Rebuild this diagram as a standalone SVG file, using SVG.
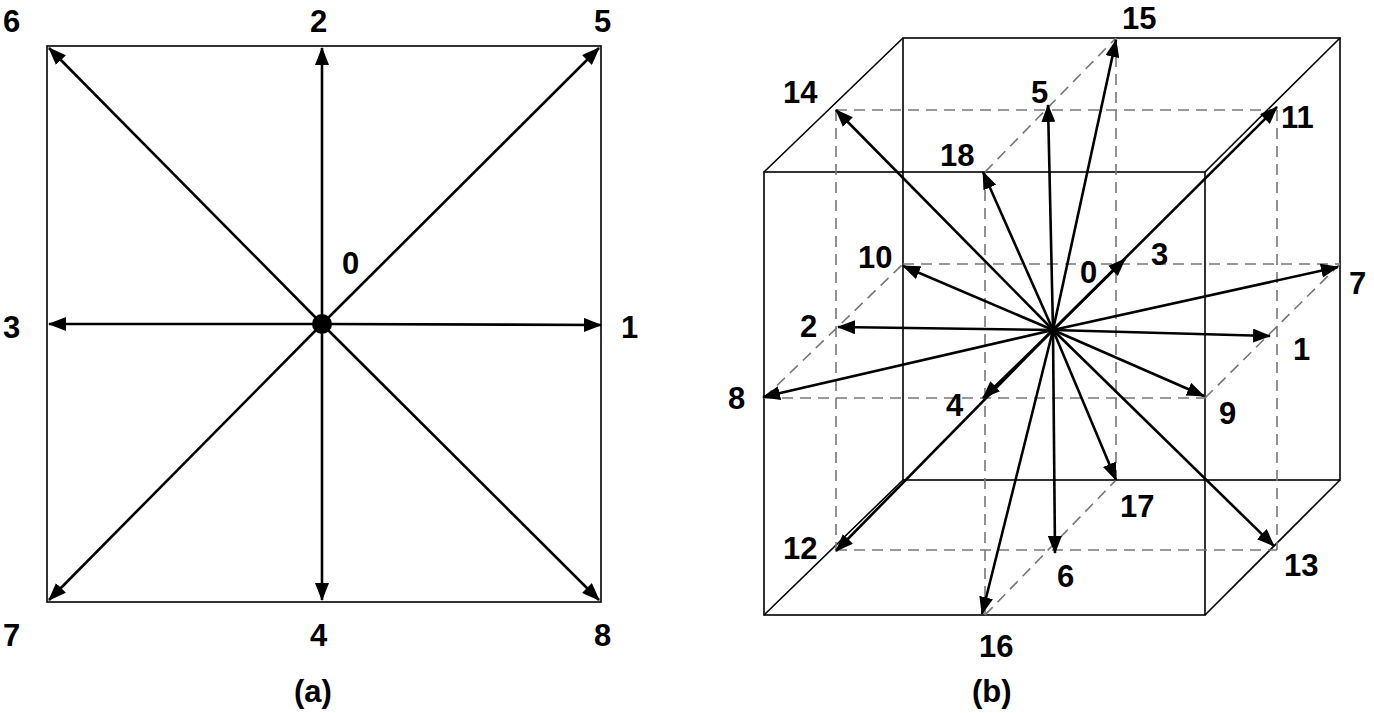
<svg xmlns="http://www.w3.org/2000/svg" width="1374" height="713" viewBox="0 0 1374 713">
<style>
.f{fill:none;stroke:#000;stroke-width:1.6}
.d{fill:none;stroke:#777;stroke-width:1.6;stroke-dasharray:11,7}
.a{stroke:#000;stroke-width:2.6;marker-end:url(#ah)}
text{font-family:"Liberation Sans",Arial,sans-serif;font-weight:bold;font-size:31px;fill:#000}
</style>
<defs><marker id="ah" viewBox="0 0 18 14" refX="17" refY="7" markerWidth="18" markerHeight="14" markerUnits="userSpaceOnUse" orient="auto"><path d="M0,0 L18,7 L0,14 z" fill="#000"/></marker></defs>
<g id="panel-a">
<rect class="f" x="47" y="46" width="554" height="556"/>
<g id="connectors-a">
<line class="a" x1="322" y1="324" x2="601" y2="325"/>
<line class="a" x1="322" y1="324" x2="322" y2="48"/>
<line class="a" x1="322" y1="324" x2="49" y2="324"/>
<line class="a" x1="322" y1="324" x2="322" y2="600"/>
<line class="a" x1="322" y1="324" x2="599" y2="48"/>
<line class="a" x1="322" y1="324" x2="49" y2="48"/>
<line class="a" x1="322" y1="324" x2="49" y2="600"/>
<line class="a" x1="322" y1="324" x2="599" y2="600"/>
</g>
<circle id="n0" cx="322" cy="324" r="10"/>
<text x="342" y="274">0</text><text x="621" y="338">1</text><text x="310" y="32">2</text>
<text x="3" y="338">3</text><text x="310" y="646">4</text><text x="594" y="32">5</text>
<text x="3" y="32">6</text><text x="3" y="646">7</text><text x="594" y="646">8</text>
<text x="294" y="702">(a)</text>
</g>
<g id="panel-b">
<g id="cube">
<rect class="f" x="764" y="172" width="441" height="443"/>
<rect class="f" x="903" y="38" width="437" height="442"/>
<path class="f" d="M764,172L903,38M1205,172L1340,38M764,615L903,480M1205,615L1340,480"/>
<path class="d" d="M836,110H1277M903,264H1340M764,398H1205M836,550H1277M836,110V550M1277,110V550M985,172V615M1116,38V480M764,398L903,264M1205,398L1340,264M985,172L1116,38M985,615L1116,480"/>
</g>
<g id="connectors-b">
<line class="a" x1="1053" y1="330" x2="1270" y2="336"/>
<line class="a" x1="1053" y1="330" x2="838" y2="327"/>
<line class="a" x1="1053" y1="330" x2="1125" y2="259"/>
<line class="a" x1="1053" y1="330" x2="983" y2="398"/>
<line class="a" x1="1053" y1="330" x2="1048" y2="105"/>
<line class="a" x1="1053" y1="330" x2="1055" y2="553"/>
<line class="a" x1="1053" y1="330" x2="1338" y2="267"/>
<line class="a" x1="1053" y1="330" x2="763" y2="397"/>
<line class="a" x1="1053" y1="330" x2="1204" y2="396"/>
<line class="a" x1="1053" y1="330" x2="903" y2="266"/>
<line class="a" x1="1053" y1="330" x2="1277" y2="107"/>
<line class="a" x1="1053" y1="330" x2="836" y2="551"/>
<line class="a" x1="1053" y1="330" x2="1274" y2="546"/>
<line class="a" x1="1053" y1="330" x2="836" y2="110"/>
<line class="a" x1="1053" y1="330" x2="1116" y2="40"/>
<line class="a" x1="1053" y1="330" x2="982" y2="614"/>
<line class="a" x1="1053" y1="330" x2="1116" y2="480"/>
<line class="a" x1="1053" y1="330" x2="983" y2="172"/>
</g>
<text x="1080" y="283">0</text><text x="1293" y="360">1</text><text x="800" y="337">2</text>
<text x="1151" y="265">3</text><text x="946" y="416">4</text><text x="1031" y="103">5</text>
<text x="1057" y="587">6</text><text x="1349" y="294">7</text><text x="728" y="409">8</text>
<text x="1219" y="424">9</text><text x="858" y="268">10</text><text x="1281" y="128">11</text>
<text x="783" y="559">12</text><text x="1284" y="576">13</text><text x="783" y="103">14</text>
<text x="1122" y="29">15</text><text x="979" y="657">16</text><text x="1120" y="517">17</text>
<text x="940" y="166">18</text>
<text x="972" y="702">(b)</text>
</g>
</svg>
